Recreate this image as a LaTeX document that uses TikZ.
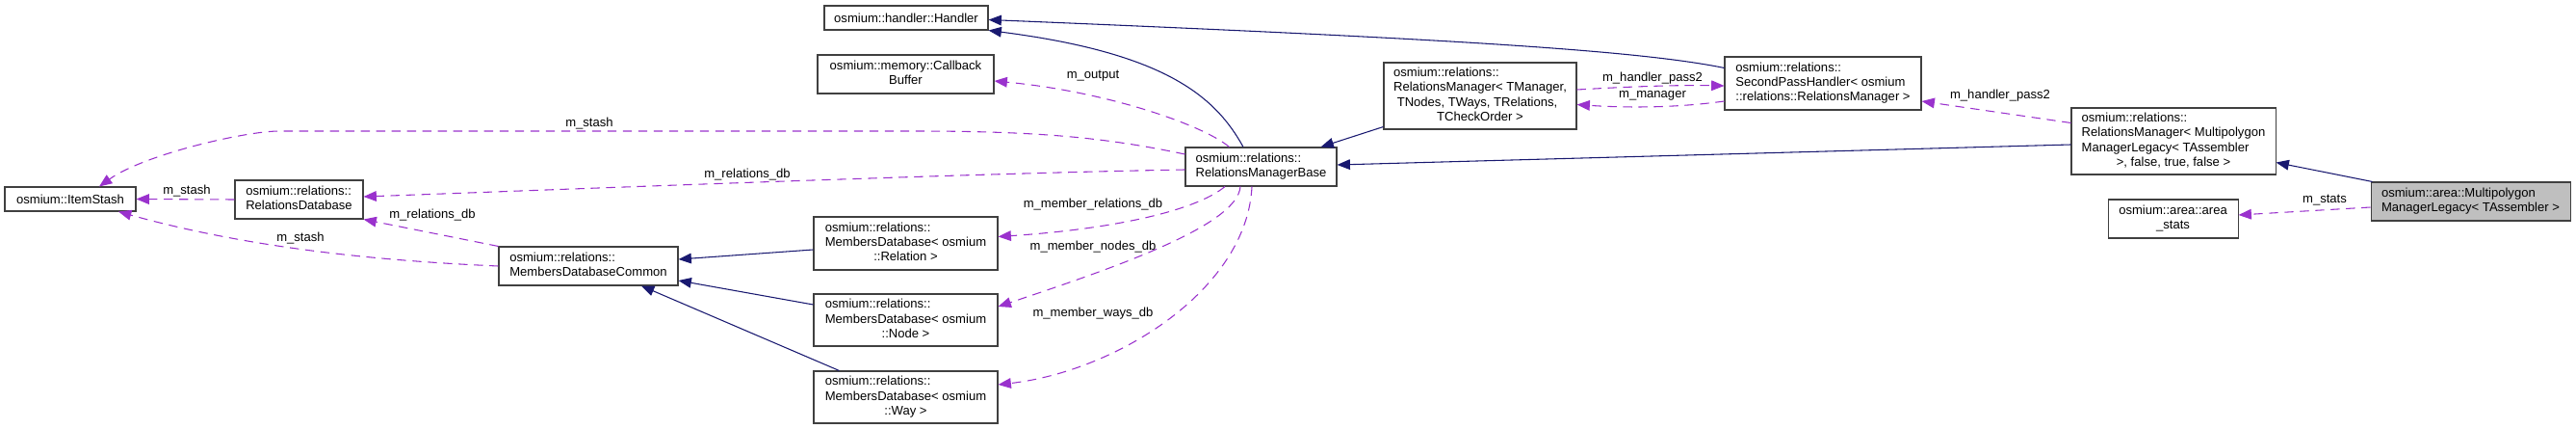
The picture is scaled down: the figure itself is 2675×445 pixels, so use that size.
\documentclass[tikz,border=0pt]{standalone}
\usepackage{fontspec}
\setmainfont{Liberation Sans}
\usepackage{tikz}
\usetikzlibrary{arrows.meta,calc}
\definecolor{dxnavy}{RGB}{25,25,112}
\definecolor{dxorchid}{RGB}{154,50,205}
\newcommand{\dxlines}[2]{\begin{tabular}{@{}l@{}}#1\\\multicolumn{1}{@{}c@{}}{#2}\end{tabular}}
\begin{document}
\begin{tikzpicture}[
    x=0.75pt, y=-0.75pt,
    font=\fontsize{9.8pt}{11.4pt}\selectfont,
    cls/.style={draw=black!75, line width=0.8pt, fill=white, inner sep=0pt},
    sz/.style 2 args={minimum width=#1*0.75pt, minimum height=#2*0.75pt},
    inh/.style={-{Triangle[length=10pt, width=8pt]}, draw=dxnavy, line width=0.8pt},
    use/.style={-{Triangle[length=10pt, width=8pt]}, draw=dxorchid, line width=0.8pt, dash pattern=on 7pt off 5pt},
    lbl/.style={inner sep=0pt}
]
\useasboundingbox (0,0) rectangle (2675,445);

\node[cls, sz={170}{25}] (handler) at (941,18.5) {osmium::handler::Handler};
\node[cls, sz={183}{40}] (cbuf) at (940.5,77) {\dxlines{osmium::memory::Callback}{Buffer}};
\node[cls, sz={136}{25}] (itemstash) at (73,206.5) {osmium::ItemStash};
\node[cls, sz={133}{40}] (reldb) at (310.5,207) {\dxlines{osmium::relations::}{RelationsDatabase}};
\node[cls, sz={186}{40}] (mdcommon) at (611,276) {\dxlines{osmium::relations::}{MembersDatabaseCommon}};
\node[cls, sz={191}{55}] (mdrel) at (940.5,252.5) {\dxlines{osmium::relations::\\MembersDatabase< osmium}{::Relation >}};
\node[cls, sz={191}{54}] (mdnode) at (940.5,332) {\dxlines{osmium::relations::\\MembersDatabase< osmium}{::Node >}};
\node[cls, sz={191}{54}] (mdway) at (940.5,412) {\dxlines{osmium::relations::\\MembersDatabase< osmium}{::Way >}};
\node[cls, sz={157}{40}] (rmbase) at (1309.5,173) {\dxlines{osmium::relations::}{RelationsManagerBase}};
\node[cls, sz={200}{69}] (rmtmpl) at (1537,99.5) {\dxlines{osmium::relations::\\RelationsManager< TManager,\\\ TNodes, TWays, TRelations,}{TCheckOrder >}};
\node[cls, sz={204}{55}] (sph) at (1893,86.5) {\dxlines{osmium::relations::\\SecondPassHandler< osmium}{::relations::RelationsManager >}};
\node[cls, sz={212}{69}] (rmmulti) at (2257,146.5) {\dxlines{osmium::relations::\\RelationsManager< Multipolygon\\ManagerLegacy< TAssembler}{>, false, true, false >}};
\node[cls, sz={135}{40}] (areastats) at (2256.5,227) {\dxlines{osmium::area::area}{\_stats}};
\node[cls, sz={207}{40}, fill=black!25] (mpml) at (2565.5,209) {\dxlines{osmium::area::Multipolygon}{ManagerLegacy< TAssembler >}};

\draw[inh] ($(rmbase.north)+(-18.5,0)$) .. controls (1262,100) and (1210,55) .. (handler.south east);
\draw[inh] ($(sph.north west)+(0,12)$) .. controls (1700,52) and (1500,40) .. ($(handler.east)+(0,2)$);
\draw[inh] ($(rmtmpl.south west)+(0,-3)$) -- ($(rmbase.north east)+(-17,0)$);
\draw[inh] ($(rmmulti.west)+(0,3.5)$) -- ($(rmbase.east)+(0,-2)$);
\draw[inh] ($(mpml.north west)+(2,0)$) -- ($(rmmulti.south east)+(0,-13)$);
\draw[inh] ($(mdrel.west)+(0,6.5)$) -- ($(mdcommon.east)+(0,-7)$);
\draw[inh] ($(mdnode.west)+(0,-16)$) -- ($(mdcommon.east)+(0,15)$);
\draw[inh] ($(mdway.north west)+(27,0)$) -- ($(mdcommon.south)+(55,0)$);

\draw[use] ($(rmbase.north)+(-33,0)$) .. controls (1250,130) and (1150,95) .. ($(cbuf.east)+(0,7)$);
\draw[use] ($(rmbase.west)+(0,-13)$) .. controls (1150,143) and (1080,136) .. (950,136) -- (290,136) .. controls (255,136) and (150,160) .. ($(itemstash.north)+(30,0)$);
\draw[use] ($(rmbase.west)+(0,3)$) .. controls (1000,180) and (600,196) .. ($(reldb.east)+(0,-3)$);
\draw[use] (reldb.west) -- (itemstash.east);
\draw[use] (mdcommon.west) .. controls (380,270) and (250,255) .. ($(itemstash.south)+(50,0)$);
\draw[use] (mdcommon.north west) -- (reldb.south east);
\draw[use] ($(rmbase.south)+(-37.5,0)$) .. controls (1240,220) and (1150,238) .. ($(mdrel.east)+(0,-7)$);
\draw[use] ($(rmbase.south)+(-21.5,0)$) .. controls (1285,235) and (1150,280) .. ($(mdnode.east)+(0,-14)$);
\draw[use] ($(rmbase.south)+(-9.5,0)$) .. controls (1295,300) and (1160,385) .. ($(mdway.east)+(0,-13)$);
\draw[use] ($(rmtmpl.east)+(0,-6.5)$) .. controls (1690,90) and (1740,88) .. ($(sph.west)+(0,2.5)$);
\draw[use] ($(sph.west)+(0,18.5)$) .. controls (1740,112) and (1690,112) .. ($(rmtmpl.east)+(0,9)$);
\draw[use] ($(rmmulti.west)+(0,-19)$) -- ($(sph.east)+(0,18.5)$);
\draw[use] ($(mpml.west)+(0,6)$) -- ($(areastats.east)+(0,-4)$);

\node[lbl] (loutput) at (1135,79) {m\_output};
\node[lbl] (lstasha) at (612,128) {m\_stash};
\node[lbl] (lreldba) at (776,181) {m\_relations\_db};
\node[lbl] (lstashb) at (194,198) {m\_stash};
\node[lbl] (lreldbb) at (449,223) {m\_relations\_db};
\node[lbl] (lstashc) at (312,247) {m\_stash};
\node[lbl] (lmemrel) at (1135,212) {m\_member\_relations\_db};
\node[lbl] (lmemnode) at (1135,256) {m\_member\_nodes\_db};
\node[lbl] (lmemway) at (1135,325) {m\_member\_ways\_db};
\node[lbl] (lpassa) at (1716,81) {m\_handler\_pass2};
\node[lbl] (lmanager) at (1716,99) {m\_manager};
\node[lbl] (lpassb) at (2077,99) {m\_handler\_pass2};
\node[lbl] (lstats) at (2414,208) {m\_stats};
\end{tikzpicture}
\end{document}
